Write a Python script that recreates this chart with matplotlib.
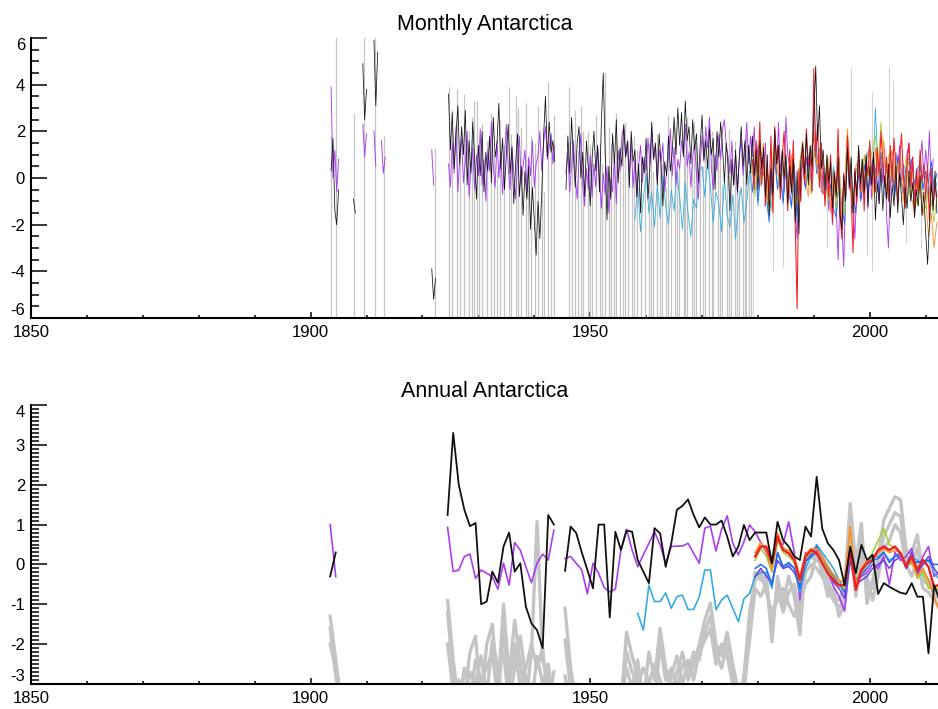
import numpy as np
import matplotlib
matplotlib.use("Agg")
import matplotlib.pyplot as plt
from matplotlib.ticker import MultipleLocator

nan = np.nan

# ---------------- text / ticks ----------------
title_monthly = "Monthly Antarctica"
title_annual = "Annual Antarctica"
x_ticks = [1850, 1900, 1950, 2000]
monthly_yticks = [-6, -4, -2, 0, 2, 4, 6]
annual_yticks = [-3, -2, -1, 0, 1, 2, 3, 4]

# ---------------- monthly panel data ----------------
# light-grey station series: value where present, drops to the missing-fill value below the axis
gray_fill = -10.0
gray_spike_years = [1903.7, 1904.6, 1907.7, 1909.6, 1911.6, 1913.2, 1922.2,
                    1924.7, 1926.2, 1927.4, 1928.3, 1929.2, 1929.8, 1930.7, 1931.5, 1932.8, 1933.9,
                    1934.6, 1935.4, 1936.7, 1937.6, 1938.5, 1939.4, 1940.6, 1941.3, 1942.5, 1943.5,
                    1946.3, 1947.3, 1947.9, 1948.7, 1949.6, 1950.4, 1951.1, 1951.8, 1952.6, 1953.8,
                    1954.7, 1955.3, 1955.9, 1956.8, 1957.5, 1958.3, 1959.0, 1959.8, 1960.5, 1961.3,
                    1962.0, 1962.8, 1963.6, 1964.4, 1965.1, 1965.9, 1966.7, 1967.4, 1968.2, 1969.0,
                    1969.7, 1970.5, 1971.3, 1972.0, 1972.8, 1973.6, 1974.4, 1975.1, 1975.9, 1976.6,
                    1977.3, 1977.9, 1978.4,
                    1925.3, 1926.8, 1928.8, 1930.2, 1932.2, 1933.3, 1935.9, 1937.1, 1938.9, 1940.1,
                    1941.8, 1943.0, 1946.8, 1948.3, 1950.0, 1952.2, 1953.3, 1954.2, 1956.3, 1957.9,
                    1960.9, 1962.4, 1964.0, 1965.5, 1967.0, 1968.6, 1970.1, 1971.7, 1973.2, 1974.8,
                    1976.2, 1977.6, 1978.8]
gray_spike_tops = [1.8, 6.5, 2.8, 6.5, 6.5, 1.8, 1.3,
                   3.9, 3.8, 3.6, 2.0, 3.3, 3.3, 2.3, 1.6, 1.0, 2.5,
                   1.4, 3.9, 3.5, 2.2, 3.2, 1.8, 3.1, 0.5, 4.1, 2.7,
                   3.9, 2.9, 1.2, 2.0, 2.0, 0.8, 2.7, 1.5, 4.5, 1.5,
                   2.8, 0.9, 2.2, 1.6, 0.4, 1.2, -0.2, 0.8, 1.5, 0.3,
                   1.9, 0.6, -0.4, 1.1, 2.2, 0.5, 1.8, 2.6, 0.9, 1.4,
                   0.2, 1.7, 2.3, 0.6, 1.2, -0.3, 1.0, 0.4, 1.6, -0.5,
                   0.8, 1.9, 0.3,
                   2.9, 1.2, 2.6, 0.7, 2.8, 0.3, 1.9, 3.0, 0.9, 1.5,
                   -0.6, 1.9, 1.6, 3.1, 1.4, 0.6, 2.2, 0.5, 2.4, 1.8,
                   2.1, 1.0, 2.7, 0.3, 1.0, 2.4, 0.5, 2.0, 0.8, 2.1,
                   0.2, 1.5, 1.2]
pale_years = [1979.1, 1982.7, 1984.5, 1992.3, 1996.7, 1999.5, 2000.4, 2003.5, 2004.2, 2006.5, 2009.2]
pale_tops = [0.5, 0.3, 1.0, 0.6, 4.7, 0.4, 3.7, 4.8, 4.2, 1.2, 0.7]
pale_lows = [-6.5, -4.0, -3.8, -3.0, -1.0, -3.3, -4.0, -0.5, -0.8, -2.8, -3.0]

# black monthly (step 1/3 yr)
black_m_1903 = [0.3, 1.7, -1.4, -2.0, -0.5]
black_m_1907 = [-0.9, -1.5, nan, nan, nan, 4.9, 2.5, 3.8]
black_m_1911 = [5.9, 3.1, 5.4]
black_m_1921 = [-3.9, -5.2, -4.3]
black_m_1924 = [3.6, 1.2, 2.8, 0.4, 1.9, 3.1, 0.6, 2.2, 1.0, 2.9,
                -0.3, 1.6, 0.2, 2.4, 0.8, -0.9, 1.4, 0.1, 2.0, -0.6,
                1.1, 0.3, 1.8, -0.2, 2.6, 0.9, 1.5, 3.2, 0.4, 1.7,
                -0.5, 1.0, 2.3, 0.2, 1.3, -1.1, 0.6, 1.9, -0.8, 0.5,
                -1.6, 0.3, -0.9, 0.5, -2.2, -0.4, -1.8, -3.3, -1.0, -2.6,
                -0.7, 1.8, 3.5, 0.9, 2.4, 1.1, 1.6, 0.7]
black_m_1945 = [-0.5,
                1.8, 0.2, 2.6, 0.9, -0.4, 1.5, 2.2, 0.0, 1.1, -0.8, 1.6, 0.4,
                -1.2, 0.8, 2.0, 0.3, 1.4, -0.6, 2.4, 4.5, 1.2, -1.8, 0.5, -0.9,
                1.9, 0.6, 2.5, -0.2, 1.3, 0.5, 2.3, 0.9, 1.6, -0.4, 2.0, 0.7,
                1.2, -0.8, 0.6, -1.5, 0.9, 0.2, 1.7, -0.9, 0.4, 2.4, 0.8, 1.5,
                -0.3, 1.9, 0.6, -1.2, 0.7, 0.1, 1.8, 0.3, 1.1, 2.6, 1.0, 3.0,
                1.4, 2.8, 0.9, 3.3, 1.6, 2.2, 0.6, 2.5, 1.2, 1.9, -0.2, 1.4,
                2.7, 0.8, 1.6, 0.4, 2.1, 1.0, 1.7, -0.5, 2.0, 0.9, 2.4, 1.3,
                -0.2, 1.5, 0.5, -1.4, 0.8, -0.3, 1.2, -0.6, 0.9, 2.2, 0.5, 1.6,
                -0.3, 1.4, 0.2, 1.8, 0.1, 1.2, -0.5, 1.6, 0.4, 1.3, -0.8, 1.0,
                -1.6, 0.4, -0.7, 2.1, 0.6, 1.4, -0.4, 1.2, 0.0, 1.0, -1.1, 0.5,
                -0.6, 0.8, -1.9, 0.3, -2.4, 0.7, 1.5, 0.2, 1.9, -0.3, 1.4, 0.5,
                2.6, 4.8, 1.6, 3.1, 0.4, 1.2, -0.5, 1.0, -0.2, 0.7, -1.3, 0.2,
                -0.8, 0.9, -1.6, -2.2, 0.1, -1.0, 1.3, -0.4, 0.9, -1.5, 0.3, -0.8,
                1.4, -0.2, 0.8, -0.6, 1.0, -1.2, 0.5, -0.3, 1.1, -1.8, -0.2, -1.1,
                0.4, -1.4, 0.1, -0.9, 0.6, -1.7, -0.3, -1.2, 0.5, -1.5, 0.2, -0.8,
                -2.0, -0.4, -1.3, 0.3, -1.0, -0.2, -1.7, -0.5, -1.2, 0.1, -1.6, -0.6,
                -2.4, -3.7, -1.9, -0.2, -1.4, 0.3, -1.5]
black_m_starts = [1903.67, 1907.67, 1911.33, 1921.67, 1924.67, 1945.67]

# purple monthly (step 1/3 yr)
purple_m_1903 = [3.9, 0.0, 1.2, -0.6, 0.8]
purple_m_1909 = [2.3, 0.9, 1.9]
purple_m_1911 = [2.0, 0.5]
purple_m_1912 = [1.6, 0.2, 0.9]
purple_m_1921 = [1.2, -0.3]
purple_m_1924 = [0.6, -0.4, 1.5, 0.2, 2.2, -0.6, 0.9, 1.7, -0.2, 0.7,
                 2.0, -0.8, 0.4, 1.3, -0.5, 1.0, 0.1, 2.1, -0.3, 0.8,
                 -1.0, 1.2, 0.3, 2.4, 0.5, -0.4, 1.6, 0.0, 1.1, -0.7,
                 0.9, 2.3, 0.4, -0.5, 1.4, 0.2, -0.9, 0.7, 1.8, -0.3,
                 0.5, 1.2, -0.6, 0.9, 0.1, 1.6, -0.4, 0.6, 1.0, 2.0,
                 0.3, 1.5, 2.2, 0.8, 1.3, 1.9, 0.6, 1.4]
purple_m_1945 = [0.2,
                 1.1, -0.6, 0.5, 1.6, 0.0, -0.9, 0.8, 1.9, -0.3, -1.2, 0.4, -0.5,
                 1.0, -0.8, 0.6, -0.4, 1.3, 0.1, -1.3, 0.2, -0.7, 0.5, -1.5, 0.0,
                 -0.6, 0.9, -1.1, 1.2, 0.3, 1.8, 2.2, 0.9, 1.5, 0.2, 1.6, -0.4,
                 0.8, -0.8, 0.5, 1.4, -0.2, 0.9, 0.3, 1.7, 0.6, 2.0, 0.8, 1.4,
                 -0.2, 1.2, 0.7, 1.5, -0.6, 0.3, 0.9, 2.1, 0.1, 1.3, -0.3, 0.8,
                 0.4, 1.6, 1.0, 2.3, 0.5, 1.1, -0.4, 0.9, 1.5, 0.2, -0.9, 0.6,
                 1.8, 0.7, 2.2, 1.3, 2.6, 0.5, -0.5, 1.0, 0.3, 1.9, 0.8, 2.1,
                 2.5, 1.4, 0.9, 0.2, 1.6, -0.3, 1.0, -0.7, 0.8, 1.7, 0.1, 1.2,
                 2.4, 0.6, 1.8, 0.9, 2.2, 0.3, 1.4, -0.4, 0.9, 0.1, 1.5, -0.8,
                 -1.1, 0.6, -0.4, 1.6, 0.2, 2.4, 0.3, 1.1, -0.6, 2.6, 1.0, 0.5,
                 -0.7, 0.8, -1.5, -2.6, -0.4, 0.6, 1.2, -0.3, 0.9, 0.1, 1.3, -0.5,
                 0.8, 2.0, 0.2, 1.1, -0.6, 0.4, -0.9, 0.5, -1.4, -0.3, -2.0, 0.2,
                 -1.2, -3.5, -0.8, -1.9, -3.8, -0.6, 1.0, -0.5, 0.6, -1.4, -2.6, -0.3,
                 0.5, -1.0, 0.2, -0.8, 0.7, -1.3, 0.4, -0.9, 1.0, -0.5, 0.8, -1.1,
                 0.9, -0.2, 1.3, -1.6, -3.0, -0.4, 0.8, -0.5, 1.1, 0.3, 1.4, -0.2,
                 0.6, -0.8, 1.0, 1.5, 0.2, 0.9, -1.0, 0.4, -0.6, 0.7, 1.6, 0.0,
                 1.2, 0.3, 2.0, -0.4, 0.8]
purple_m_starts = [1903.67, 1909.33, 1911.33, 1912.67, 1921.67, 1924.67, 1945.67]

# light blue monthly (step 1/2 yr, from 1958)
lightblue_m = [-1.8, -0.4, -2.3, -0.9, 0.2, -1.5, -0.6, -2.1, -0.3, -1.7,
               0.1, -1.2, -2.0, -0.5, -1.4, 0.3, -0.8, -2.2, -0.2, -1.5,
               -2.5, -0.9, -1.3, 0.2, 0.5, -0.8, 0.8, -0.4, -1.9, -0.6,
               -1.1, -2.3, 0.0, -1.6, -2.1, -0.7, -2.6, -1.2, -0.4, -1.9,
               -1.0, 0.3, -0.6, 0.9, -1.2, 0.4, 0.7, -0.8, -1.6, 0.1,
               1.2, -0.3, 0.5, -1.0, 0.9, -0.6, -1.3, 0.4, -2.0, 0.2,
               0.6, -0.5, 1.0, -0.2, 3.4, 0.6, 1.3, -0.4, 0.2, -0.9,
               -0.7, 0.5, -1.6, -0.3, -2.2, -0.8, 1.1, -0.2, -1.5, 0.3,
               0.6, -0.7, -0.3, 0.8, 1.4, -0.4, 3.0, 0.2, 0.7, -0.6,
               -0.9, 0.5, 0.3, -0.8, 1.0, -0.1, -0.6, 0.4, 0.9, -0.3,
               -0.8, 0.2, 0.5, -0.5, 0.1, -1.0, 0.4, -0.7, -0.2]
lightblue_m_start = 1958.0

# red monthly (step 1/3 yr, from 1979)
red_m = [0.8, -0.5, 1.6, 0.2, 2.4, -0.3, 1.1, -1.2, 0.5, -0.8, 1.8, -1.5,
         2.2, 0.6, 1.4, -0.9, 0.8, 2.0, 0.3, -1.4, 1.2, -0.4, 1.6, -2.0,
         -5.6, 0.4, -1.0, 1.3, -0.2, 2.1, 0.5, 1.1, -0.6, 4.7, 0.9, 2.3,
         -0.4, 1.5, 0.2, -1.2, 0.6, -0.8, 1.0, -1.9, 0.3, -0.6, 2.1, -1.3,
         -2.6, 0.2, -0.9, 1.8, 0.5, -0.7, -3.2, 0.4, -1.1, 1.2, -0.5, 0.8,
         -1.4, 0.9, 0.1, 1.6, -0.3, 0.7, -0.6, 1.3, 0.2, 2.0, 0.6, -0.4,
         0.9, -1.0, 1.4, -0.2, 1.7, 0.4, -1.1, 0.8, 1.9, 0.2, -1.3, 0.6,
         1.5, -0.4, 0.9, -1.6, 0.3, -0.7, 1.2, -0.2, 0.6, -0.9, 0.5, -1.8,
         0.4, -1.2, -0.3, -0.8]
red_m_start = 1979.0

# orange / blue / green monthly (step 1/2 yr, from 1979)
orange_m = [0.5, 1.2, -0.4, 0.9, 1.5, -0.6, -1.2, 0.3, 1.8, 0.4,
            -0.3, 1.1, 0.6, -0.9, 1.0, -1.3, -0.5, 0.7, 1.6, 0.0,
            -0.8, 1.2, 2.0, 0.5, 1.1, -0.7, -0.3, 0.9, -1.5, 0.2,
            -0.9, 1.0, -1.8, -0.2, 2.1, 0.3, -1.2, 0.5, 0.8, -0.6,
            -0.4, 1.1, 0.9, -0.8, 1.3, 0.0, 0.5, 1.6, -0.7, 0.6,
            1.2, -0.3, 0.4, 1.0, -1.0, 0.2, 0.7, -0.9, -1.4, 0.1,
            -0.5, -1.6, -0.8, -2.5, -1.5, -3.0, -1.9]
blue_m = [-0.6, 0.7, -1.0, 0.4, 0.9, -0.8, -1.9, -0.2, 0.8, -0.5,
          0.2, -1.1, 0.5, -0.3, -1.2, 0.6, -1.6, -0.1, 0.7, -0.4,
          0.3, 1.0, 1.8, 0.2, 0.6, -0.5, -0.8, 0.4, -0.4, -1.3,
          -1.7, 0.1, -1.2, -2.0, 0.9, -0.3, -0.6, -1.5, 0.2, -0.9,
          0.6, -0.4, -0.2, 0.8, 0.4, -0.6, 1.1, 0.1, -0.5, 0.7,
          0.3, -0.6, 0.9, 0.0, -0.7, 0.5, 0.2, 0.8, -0.3, 0.4,
          0.6, -0.5, 0.3, -0.2, 0.7, -0.4, 0.2]
green_m = [0.3, -0.8, 1.0, -0.2, 0.4, -1.0, 0.1, -1.4, 1.3, 0.2,
           -0.6, 0.7, 0.2, -0.5, 0.6, -0.9, -1.1, 0.3, 0.9, -0.1,
           0.4, -0.7, 1.2, 0.6, -0.2, 0.8, 0.3, -1.0, -0.6, 0.1,
           -1.3, -0.4, -0.5, -1.6, 0.8, -0.2, -0.9, 0.2, 0.4, -0.6,
           1.0, 0.0, 0.6, 1.3, 1.8, 0.5, 2.4, 0.9, 0.2, 1.1,
           -0.4, 0.8, 0.5, -0.3, 0.1, 0.9, -0.8, 0.3, -0.4, -1.2,
           0.2, -0.9, -1.3, -0.5, -1.0, -1.9, -0.7]
half_m_start = 1979.0

# ---------------- annual panel data (one value per year) ----------------
black_a = [-0.3, 0.3,
           nan, nan, nan, nan, nan, nan, nan, nan, nan, nan,
           nan, nan, nan, nan, nan, nan, nan, nan, nan,
           1.24, 3.3, 2.0, 1.37, 0.96, 1.04, -1.0, -0.93, -0.18, -0.46,
           0.45, 0.8, -0.18, 0.03, -1.06, -1.48, -1.65, -2.1, 1.24, 1.0,
           nan,
           -0.16, 0.95, 0.79, 0.3, -0.14, -0.6, 1.0, 1.0, -1.33, 0.82,
           0.36, 0.85, 0.82, 0.11, -0.18, -0.47, 0.91, 0.78, -0.06, 0.53,
           1.37, 1.47, 1.63, 1.24, 0.93, 1.18, 1.0, 1.0, 1.1, 0.7,
           0.2, 0.45, 0.99, 0.61, 0.8, 0.8, 0.8, 0.03, 1.07, 0.61,
           0.45, 0.2, 0.11, 0.95, 0.7, 2.2, 0.9, 0.53, 0.36, 0.11,
           -0.52, 0.45, -0.22, 0.49, 0.11, 0.24, -0.74, -0.47, -0.56, -0.64,
           -0.71, -0.74, -0.47, -0.81, -0.81, -2.23, -0.52, -0.9]
purple_a = [1.0, -0.31,
            nan, nan, nan, nan, nan, nan, nan, nan, nan, nan,
            nan, nan, nan, nan, nan, nan, nan, nan, nan,
            0.93, -0.18, -0.14, 0.2, 0.26, -0.35, -0.14, -0.22, -0.31, -0.62,
            0.03, -0.52, 0.55, 0.36, -0.06, -0.46, 0.03, 0.26, 0.11, 0.86,
            nan,
            0.15, 0.2, 0.03, -0.14, -0.74, 0.03, -0.22, -0.58, -0.69, -0.62,
            0.36, 0.88, 0.36, -0.06, 0.24, 0.53, 0.82, 0.49, 0.03, 0.45,
            0.46, 0.46, 0.53, 0.28, 0.03, 0.91, 0.96, 0.34, 0.88, 1.22,
            0.53, 0.24, 0.57, 0.99, 0.82, 0.55, 0.3, -0.1, 0.6, 0.5,
            1.07, 0.3, -0.89, 0.3, 0.2, 0.35, 0.1, -0.2, -0.55, -0.8,
            -1.17, 0.2, -0.5, -0.3, -0.2, 0.0, -0.1, 0.2, -0.5, 0.3,
            0.1, 0.2, 0.4, -0.3, 0.2, 0.45, -0.3, -0.2]
early_a_start = 1903

gray_a1 = [-1.3, -2.4, -3.5,
           nan, nan, nan, nan, nan, nan, nan, nan, nan,
           nan, nan, nan, nan, nan, nan, nan, nan, nan,
           -0.9, -2.4, -3.5, -3.3, -2.2, -1.8, -3.5, -2.0, -1.5, -3.2,
           -1.0, -2.8, -1.4, -2.5, -3.5, -2.2, 1.07, -2.4, -2.9, -3.5,
           nan, -1.1, -2.6, -3.5, -3.5,
           nan, nan, nan, nan, nan, nan,
           -3.5, -1.7, -2.3, -2.8, -3.5, -2.2, -2.9, -1.6, -2.6, -3.2,
           -2.7, -2.2, -2.9, -2.5, -2.0, -1.4, -0.97, -2.0, -2.3, -1.7,
           -2.5, -3.2, -3.3, -1.5, -0.2, -0.4, -0.3, -1.94, -0.3, -0.97,
           -0.3, -0.8, -1.76, 0.11, 0.19, 0.11, -0.01, -0.39, -0.81, -0.89,
           -0.56, 1.53, 0.0, 1.03, -0.98, -0.39, 0.19, 1.11, 1.41, 1.7,
           1.62, 0.36, 0.28, 0.74, -0.22, -0.4, -0.6, -0.8]
gray_a2 = [-1.6, -2.8, -3.5,
           nan, nan, nan, nan, nan, nan, nan, nan, nan,
           nan, nan, nan, nan, nan, nan, nan, nan, nan,
           -1.2, -2.8, -3.5, -2.6, -3.4, -2.4, -2.9, -2.6, -2.2, -3.5,
           -1.6, -3.0, -2.0, -3.1, -2.6, -2.0, -2.6, -2.1, -3.5, -2.7,
           nan, -1.9, -3.1, -3.5, -3.3,
           nan, nan, nan, nan, nan, nan,
           -3.5, -2.2, -2.7, -3.0, -2.6, -2.9, -3.5, -2.0, -2.9, -2.6,
           -3.1, -2.5, -2.7, -2.2, -2.4, -1.7, -1.3, -2.2, -2.6, -2.0,
           -2.8, -3.5, -3.1, -1.9, -0.6, -0.8, -0.5, -1.5, -0.6, -1.2,
           -0.7, -0.5, -1.3, -0.2, 0.0, -0.1, -0.3, -0.6, -0.9, -1.1,
           -0.8, 0.9, -0.4, 0.6, -0.6, -0.6, 0.0, 0.7, 1.0, 1.3,
           1.2, 0.2, 0.0, 0.4, -0.4, -0.5, -0.7, -0.9]
gray_a3 = [-2.0, -2.6, -3.5,
           nan, nan, nan, nan, nan, nan, nan, nan, nan,
           nan, nan, nan, nan, nan, nan, nan, nan, nan,
           -2.0, -3.2, -2.9, -3.5, -2.7, -3.0, -2.3, -3.3, -1.9, -2.6,
           -2.2, -3.5, -2.6, -1.8, -2.9, -3.5, -2.3, -3.0, -2.5, -3.5,
           nan, -2.8, -3.5, -3.0, -3.5,
           nan, nan, nan, nan, nan, nan,
           -3.5, -2.6, -3.1, -2.4, -3.5, -3.0, -2.5, -2.9, -3.5, -2.8,
           -2.3, -3.0, -2.4, -2.9, -2.2, -1.9, -1.6, -2.5, -2.0, -2.3,
           -3.0, -3.5, -2.8, -1.2, -0.4, -0.2, -0.7, -1.2, -0.9, -0.6,
           -1.0, -1.3, -0.9, -0.5, -0.3, 0.3, -0.2, -0.8, -0.6, -1.3,
           -1.0, 0.5, -0.8, 0.2, -0.3, -0.9, -0.3, 0.4, 0.6, 1.0,
           0.8, 0.0, -0.3, 0.1, -0.6, -0.7, -0.9, -1.1]

lightblue_a = [-1.23, -1.65, -0.52, -0.93, -0.93, -0.72, -1.1, -0.81, -0.77, -1.13,
               -1.13, -0.81, -0.14, -0.14, -1.14, -0.89, -0.77, -1.1, -1.44, -0.86,
               -0.73, -0.3, -0.2, -0.2, -0.6, 0.3, -0.1, 0.0, -0.1, -0.7,
               -0.1, 0.2, 0.5, 0.3, 0.1, -0.1, -0.4, -0.6, 0.3, -0.4,
               -0.2, 0.0, 0.2, 0.2, 0.3, 0.1, 0.2, 0.3, -0.1, 0.2,
               0.1, 0.0, 0.1, -0.2, -0.4]
lightblue_a_start = 1958

red_a = [0.2, 0.45, 0.45, 0.03, 0.7, 0.36, 0.28, 0.11, -0.39, 0.2,
         0.36, 0.28, 0.03, -0.22, -0.39, -0.52, -0.52, 0.36, -0.64, -0.14,
         0.03, 0.11, 0.36, 0.45, 0.36, 0.45, 0.28, -0.06, 0.2, -0.14,
         0.11, -0.06, -0.56, -0.5]
orange_a = [0.3, 0.55, 0.35, -0.1, 0.8, 0.4, 0.35, 0.2, -0.3, 0.25,
            0.4, 0.4, 0.2, -0.05, -0.25, -0.4, -0.45, 0.95, -0.5, -0.1,
            0.1, 0.2, 0.3, 0.4, 0.3, 0.35, 0.3, 0.0, 0.1, -0.3,
            -0.1, -0.4, -0.8, -1.2]
green_a = [0.1, 0.4, 0.2, -0.2, 0.6, 0.3, 0.2, 0.05, -0.45, 0.15,
           0.3, 0.3, 0.1, -0.15, -0.35, -0.5, -0.6, 0.3, -0.55, -0.2,
           0.0, 0.3, 0.6, 0.9, 0.5, 0.4, 0.3, -0.05, 0.05, -0.35,
           -0.2, -0.6, -0.5, -0.7]
blue_a = [-0.1, 0.0, -0.1, -0.5, 0.3, -0.05, 0.05, -0.1, -0.6, 0.05,
          0.25, 0.45, 0.2, -0.05, -0.3, -0.5, -0.7, 0.2, -0.4, -0.25,
          -0.1, 0.1, 0.15, 0.3, 0.05, 0.2, 0.25, -0.1, 0.1, 0.05,
          0.1, 0.1, 0.0, 0.0]
violet_a = [-0.3, -0.1, -0.3, -0.45, 0.1, -0.1, -0.05, -0.2, -0.5, 0.1,
            0.2, 0.3, 0.1, -0.1, -0.45, -0.6, -0.85, 0.1, -0.5, -0.4,
            -0.3, -0.1, 0.0, 0.1, -0.1, 0.1, 0.2, 0.0, 0.3, -0.2,
            0.0, 0.2, -0.1, -0.3]
bundle_a_start = 1979

# ---------------- colours ----------------
C_BLACK = "#111111"
C_PURPLE = "#a83ff0"
C_LBLUE = "#34ade0"
C_RED = "#f01e23"
C_ORANGE = "#ff8c1e"
C_GREEN = "#a3cf32"
C_BLUE = "#2a62f5"
C_VIOLET = "#6a3ee6"
C_GRAY = "#c4c4c4"
C_PALE = "#d4d4d4"

plt.rcParams['font.family'] = ['Liberation Sans', 'DejaVu Sans']
plt.rcParams['axes.unicode_minus'] = False

fig = plt.figure(figsize=(9.38, 7.09), dpi=100)
W, H = 938.0, 709.0
ax1 = fig.add_axes([31 / W, 1 - 318 / H, 907 / W, 280 / H])
ax2 = fig.add_axes([31 / W, 1 - 684 / H, 907 / W, 279 / H])


def style(ax, ylim, yticks, yminor, title):
    ax.set_xlim(1850, 2012.2)
    ax.set_ylim(*ylim)
    for s in ['top', 'right']:
        ax.spines[s].set_visible(False)
    for s in ['left', 'bottom']:
        ax.spines[s].set_linewidth(1.5)
    ax.set_xticks(x_ticks)
    ax.set_xticklabels([str(v) for v in x_ticks])
    ax.xaxis.set_minor_locator(MultipleLocator(10))
    ax.set_yticks(yticks)
    ax.set_yticklabels([str(v) for v in yticks])
    ax.yaxis.set_minor_locator(MultipleLocator(yminor))
    ax.tick_params(axis='x', which='major', direction='in', length=4.5, width=1.1,
                   pad=5, labelsize=12)
    ax.tick_params(axis='x', which='minor', direction='in', length=2.2, width=1.1)
    ax.tick_params(axis='y', which='major', direction='in', length=11.5, width=1.1,
                   pad=4.3, labelsize=12)
    ax.tick_params(axis='y', which='minor', direction='in', length=5.8, width=1.1)
    labs = ax.get_yticklabels()
    labs[0].set_verticalalignment('bottom')
    labs[-1].set_verticalalignment('top')
    ax.set_title(title, fontsize=15.5, pad=5.8)


def plot_segments(ax, starts, segs, step, **kw):
    for s, vals in zip(starts, segs):
        t = s + step * np.arange(len(vals))
        ax.plot(t, vals, **kw)


def plot_series(ax, start, vals, step, **kw):
    t = start + step * np.arange(len(vals))
    ax.plot(t, vals, **kw)


# ---------------- monthly ----------------
ax1.vlines(gray_spike_years, gray_fill, gray_spike_tops, color=C_GRAY, lw=0.9)
ax1.vlines(pale_years, pale_lows, pale_tops, color=C_PALE, lw=0.8)
plot_series(ax1, lightblue_m_start, lightblue_m, 0.5, color=C_LBLUE, lw=0.6)
plot_segments(ax1, purple_m_starts,
              [purple_m_1903, purple_m_1909, purple_m_1911, purple_m_1912,
               purple_m_1921, purple_m_1924, purple_m_1945], 1 / 3.0, color=C_PURPLE, lw=0.65)
plot_series(ax1, half_m_start, blue_m, 0.5, color=C_BLUE, lw=0.6)
plot_series(ax1, half_m_start, green_m, 0.5, color=C_GREEN, lw=0.6)
plot_series(ax1, half_m_start, orange_m, 0.5, color=C_ORANGE, lw=0.6)
plot_series(ax1, red_m_start, red_m, 1 / 3.0, color=C_RED, lw=0.75)
plot_segments(ax1, black_m_starts,
              [black_m_1903, black_m_1907, black_m_1911, black_m_1921,
               black_m_1924, black_m_1945], 1 / 3.0, color=C_BLACK, lw=0.55)
style(ax1, (-6, 6), monthly_yticks, 0.5, title_monthly)

# ---------------- annual ----------------
for g in (gray_a1, gray_a2, gray_a3):
    plot_series(ax2, early_a_start + 0.5, g, 1.0, color=C_GRAY, lw=2.4)
plot_series(ax2, early_a_start + 0.5, purple_a, 1.0, color=C_PURPLE, lw=1.2)
plot_series(ax2, lightblue_a_start + 0.5, lightblue_a, 1.0, color=C_LBLUE, lw=1.2)
plot_series(ax2, bundle_a_start + 0.5, violet_a, 1.0, color=C_VIOLET, lw=1.1)
plot_series(ax2, bundle_a_start + 0.5, blue_a, 1.0, color=C_BLUE, lw=1.1)
plot_series(ax2, bundle_a_start + 0.5, green_a, 1.0, color=C_GREEN, lw=1.1)
plot_series(ax2, bundle_a_start + 0.5, orange_a, 1.0, color=C_ORANGE, lw=1.2)
plot_series(ax2, bundle_a_start + 0.5, red_a, 1.0, color=C_RED, lw=1.7)
plot_series(ax2, early_a_start + 0.5, black_a, 1.0, color=C_BLACK, lw=1.3)
style(ax2, (-3, 4), annual_yticks, 0.1, title_annual)

fig.savefig("out.png", dpi=100)
